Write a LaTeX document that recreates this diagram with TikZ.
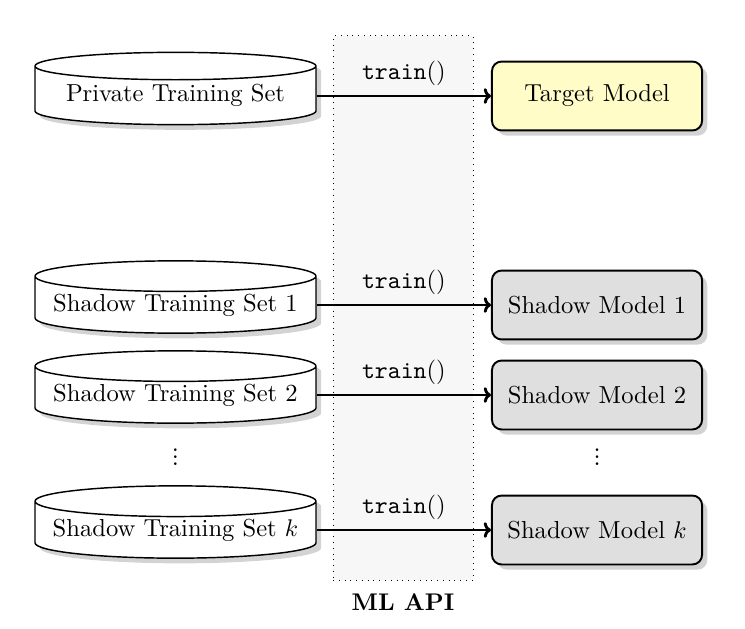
\documentclass[tikz,border=0pt]{standalone}
\usetikzlibrary{shapes.geometric,shadows,arrows.meta}
\begin{document}
\begin{tikzpicture}[x=0.415pt,y=-0.415pt, font=\fontsize{10.2pt}{12pt}\selectfont,
  dataset/.style={cylinder, shape border rotate=90, aspect=0.125, draw, semithick, fill=white,
    minimum width=116.6pt, minimum height=30pt, drop shadow={opacity=0.35}, inner sep=0pt},
  model/.style={rectangle, rounded corners=4pt, draw, thick, minimum width=87.2pt, minimum height=28.6pt,
    drop shadow={opacity=0.35}},
  target/.style={model, fill=yellow!22},
  shadowm/.style={model, fill=gray!25},
  conn/.style={-{To[length=3pt,width=6.5pt]}, line width=1.2pt},
  dotsnode/.style={inner sep=0pt, align=center, font=\fontsize{10.5pt}{2.9pt}\selectfont},
  lbl/.style={inner sep=1pt}]
\useasboundingbox (0,0) rectangle (745,628);
\node[draw, dotted, fill=gray!6, minimum width=58.1pt, minimum height=225.8pt, inner sep=0pt] (api) at (403,308) {};
\node[font=\bfseries] (apilabel) at (403,602) {ML API};

\node[dataset, anchor=shape center] (p) at (175.5,88.5) {Private Training Set};
\node[dataset, anchor=shape center] (s1) at (175.5,297) {Shadow Training Set 1};
\node[dataset, anchor=shape center] (s2) at (175.5,387) {Shadow Training Set 2};
\node[dataset, anchor=shape center] (sk) at (175.5,522) {Shadow Training Set $k$};
\node[dotsnode] (dl) at (175.5,457) {.\\.\\.};

\node[target] (t) at (597,96) {Target Model};
\node[shadowm] (m1) at (597,305) {Shadow Model 1};
\node[shadowm] (m2) at (597,395) {Shadow Model 2};
\node[shadowm] (mk) at (597,530) {Shadow Model $k$};
\node[dotsnode] (dr) at (597,457) {.\\.\\.};

\draw[conn] (p.east |- t.west) -- node[above=2.5pt, lbl] {\texttt{train}()} (t.west);
\draw[conn] (s1.east |- m1.west) -- node[above=2.5pt, lbl] {\texttt{train}()} (m1.west);
\draw[conn] (s2.east |- m2.west) -- node[above=2.5pt, lbl] {\texttt{train}()} (m2.west);
\draw[conn] (sk.east |- mk.west) -- node[above=2.5pt, lbl] {\texttt{train}()} (mk.west);
\end{tikzpicture}
\end{document}
